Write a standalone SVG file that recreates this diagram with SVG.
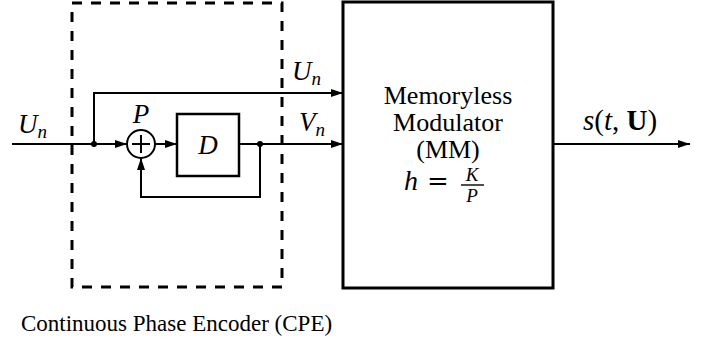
<svg xmlns="http://www.w3.org/2000/svg" width="706" height="344" viewBox="0 0 706 344">
<style>
.ln{fill:none;stroke:#000;stroke-width:2}
.box{fill:none;stroke:#000;stroke-width:3}
.dash{fill:none;stroke:#000;stroke-width:3;stroke-dasharray:10 9}
text{font-family:"Liberation Serif","Times New Roman",serif;fill:#000}
.m{font-style:italic;font-size:27px}
.sub{font-size:19px}
.r{font-size:26px}
.cap{font-size:23px}
.up{font-style:normal}
.fr{font-size:19px}
.eq{font-family:"DejaVu Serif",serif;font-size:26px}
</style>
<defs>
<marker id="ah" viewBox="0 0 12 8" refX="12" refY="4" markerWidth="12" markerHeight="8" markerUnits="userSpaceOnUse" orient="auto">
<path d="M0,0 L12,4 L0,8 Z" fill="#000"/>
</marker>
</defs>
<g id="cpe">
<rect class="dash" x="72" y="3" width="210" height="284"/>
<text class="cap" x="21" y="331">Continuous Phase Encoder (CPE)</text>
</g>
<g id="sum">
<circle cx="141" cy="144" r="14" fill="#fff" stroke="#000" stroke-width="2"/>
<path class="ln" d="M132,144 H150 M141,135 V153"/>
<text class="m" x="141" y="123" text-anchor="middle">P</text>
</g>
<g id="delay">
<rect x="177" y="114" width="62" height="62" fill="none" stroke="#000" stroke-width="2.5"/>
<text class="m" x="208" y="154" text-anchor="middle">D</text>
</g>
<g id="mm">
<rect class="box" x="343" y="2" width="210" height="286"/>
<text class="r" x="448" y="104" text-anchor="middle">Memoryless</text>
<text class="r" x="448" y="131" text-anchor="middle">Modulator</text>
<text class="r" x="448" y="158" text-anchor="middle">(MM)</text>
<text class="m" x="404" y="190" style="font-size:28px">h</text>
<text class="eq" x="427" y="190">=</text>
<text class="m fr" x="472" y="181" text-anchor="middle">K</text>
<line x1="461" y1="185" x2="484" y2="185" stroke="#000" stroke-width="1.4"/>
<text class="m fr" x="472" y="202" text-anchor="middle">P</text>
</g>
<g id="connectors">
<path class="ln" d="M12,144 H127" marker-end="url(#ah)"/>
<circle cx="94" cy="144" r="3"/>
<path class="ln" d="M94,144 V93 H343" marker-end="url(#ah)"/>
<path class="ln" d="M155,144 H177" marker-end="url(#ah)"/>
<path class="ln" d="M239,144 H343" marker-end="url(#ah)"/>
<circle cx="260" cy="144" r="3"/>
<path class="ln" d="M260,144 V197 H141 V158" marker-end="url(#ah)"/>
<path class="ln" d="M553,144 H690" marker-end="url(#ah)"/>
</g>
<g id="labels">
<text class="m" x="18" y="133">U<tspan class="sub" dy="5">n</tspan></text>
<text class="m" x="292" y="80">U<tspan class="sub" dy="5">n</tspan></text>
<text class="m" x="299" y="131">V<tspan class="sub" dy="5">n</tspan></text>
<text class="m" x="583" y="130" style="font-size:29px">s<tspan class="up">(</tspan>t<tspan class="up">, </tspan><tspan class="up" font-weight="bold">U</tspan><tspan class="up">)</tspan></text>
</g>
</svg>
